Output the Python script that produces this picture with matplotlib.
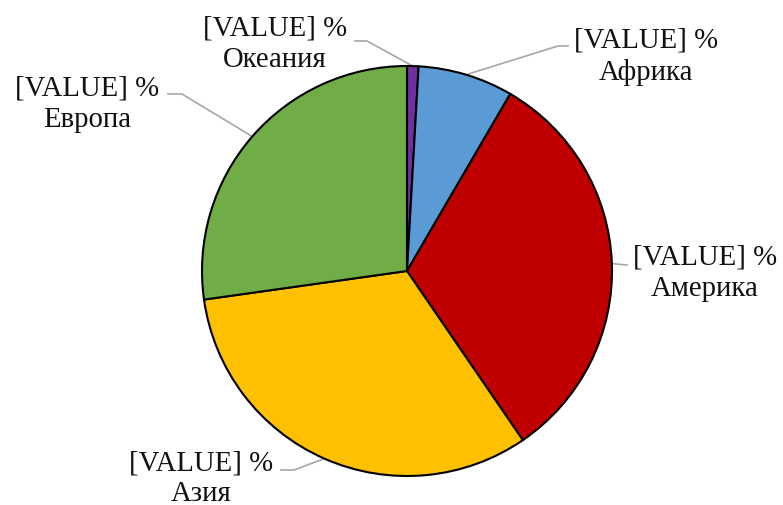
import numpy as np
import matplotlib.pyplot as plt

plt.rcParams['font.family'] = ['Liberation Serif', 'DejaVu Serif']

# Share of each region, clockwise from 12 o'clock
regions = ['Океания', 'Африка', 'Америка', 'Азия', 'Европа']
shares = [0.9, 7.5, 32.0, 32.3, 27.2]
colors = ['#7030A0', '#5B9BD5', '#C00000', '#FFC000', '#70AD47']

W, H = 783, 506
fig = plt.figure(figsize=(W / 100, H / 100), dpi=100)
ax = fig.add_axes([0, 0, 1, 1])

cx, cy, r = 407, H - 272, 205
wedges, _ = ax.pie(shares, colors=colors, startangle=90, counterclock=False,
                   center=(cx, cy), radius=r, frame=True,
                   wedgeprops=dict(edgecolor='black', linewidth=1.5))
ax.set_xlim(0, W)
ax.set_ylim(0, H)
ax.set_aspect('equal')
ax.axis('off')

# label block centre, leader end, elbow (pixel coords, y from top)
label_pos = {
    'Океания': ((275, 44), (355, 42), (367, 42)),
    'Африка': ((646, 57), (568, 47), (558, 47)),
    'Америка': ((705, 273), (627, 266), (627, 266)),
    'Азия': ((201, 479), (281, 471), (294, 471)),
    'Европа': ((87, 104), (168, 95), (182, 95)),
}

for w, name in zip(wedges, regions):
    mid = np.deg2rad((w.theta1 + w.theta2) / 2)
    ax_pt = (cx + r * np.cos(mid), cy + r * np.sin(mid))
    (tx, ty), (ex, ey), (bx, by) = label_pos[name]
    ax.plot([ax_pt[0], bx, ex], [ax_pt[1], H - by, H - ey],
            color='#A6A6A6', linewidth=1.2, zorder=0)
    ax.text(tx, H - ty, '[VALUE] %\n' + name, ha='center', va='center',
            fontsize=20.7, linespacing=1.25, color='#111111')

fig.savefig('out.png', dpi=100)
